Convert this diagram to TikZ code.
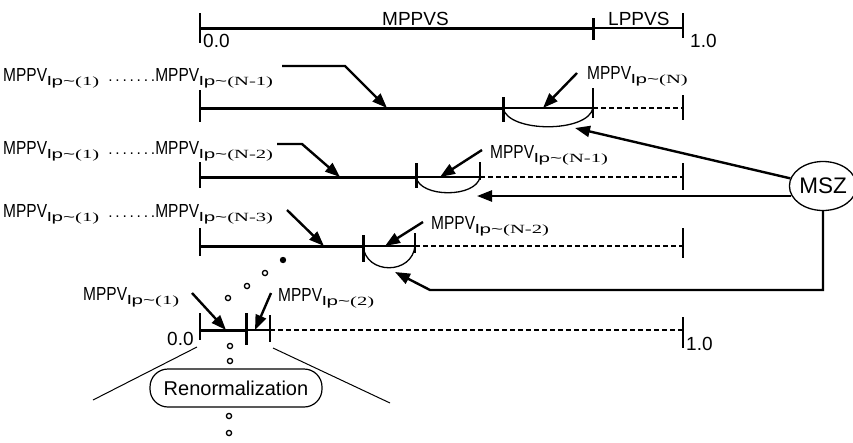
\documentclass[tikz,border=0pt]{standalone}
\usepackage{fontspec}
\setmainfont{Liberation Sans}
\newfontfamily\serf{Liberation Serif}
\usetikzlibrary{arrows.meta,shapes.geometric,calc}
\newcommand\sbs[1]{\raisebox{-4.5pt}{\scalebox{1.65}[1]{\fontsize{12.5}{12.5}\selectfont lp\textasciitilde{\serf(#1)}}}}
\newcommand\MP{\scalebox{1}[1.22]{MPPV}}
\newcommand\dts{\hspace{9pt}\makebox[47pt][s]{.\hfill.\hfill.\hfill.\hfill.\hfill.\hfill.}}
\begin{document}
\begin{tikzpicture}[x=1pt,y=-1pt,
  txt/.style={inner sep=0pt,anchor=base west,font=\fontsize{15.5}{15.5}\selectfont},
  toptxt/.style={inner sep=0pt,anchor=base west,font=\fontsize{19}{19}\selectfont},
  thick line/.style={line width=3pt},
  thin line/.style={line width=1.3pt},
  tick/.style={line width=1.2pt},
  btick/.style={line width=3pt},
  dash line/.style={line width=1.2pt,dash pattern=on 5pt off 3pt},
  arr/.style={line width=2.4pt,-{Triangle[length=15pt,width=11pt]}},
  dotc/.style={line width=1.3pt},
  fan/.style={line width=1pt}]
\useasboundingbox (0,0) rectangle (853,442);

% ---------- top scale ----------
\draw[tick] (200,13) -- (200,43);
\draw[thick line] (200,28) -- (593,28);
\draw[btick] (593,18) -- (593,40);
\draw[line width=1.8pt] (593,28) -- (683,28);
\draw[tick] (683,13) -- (683,38);
\node[toptxt] (mppvs) at (382,25) {MPPVS};
\node[toptxt] (lppvs) at (608,25) {LPPVS};
\node[toptxt] (z0) at (203,47) {0.0};
\node[toptxt] (o0) at (690,47) {1.0};

% ---------- line 1 ----------
\draw[tick] (200,90) -- (200,122);
\draw[thick line] (200,108) -- (503,108);
\draw[btick] (503,97) -- (503,122);
\draw[thin line] (503,108) -- (593,108);
\draw[tick] (593,88) -- (593,118);
\draw[dash line] (593,108) -- (683,108);
\draw[tick] (683,95) -- (683,120);
\draw[thin line] (503,108) .. controls (508,133) and (588,133) .. (593,108);
\node[txt] (l1) at (3,81) {\MP\sbs{1}\dts\MP\sbs{N-1}};
\node[txt] (n1) at (587,79) {\MP\sbs{N}};
\coordinate (a1s) at (282,66);
\coordinate (a1m) at (345,66);
\coordinate (a1e) at (387,108);
\draw[arr] (a1s) -- (a1m) -- (a1e);
\coordinate (b1s) at (577,73);
\coordinate (b1e) at (543,108);
\draw[arr] (b1s) -- (b1e);

% ---------- line 2 ----------
\draw[tick] (200,162) -- (200,188);
\draw[thick line] (200,177) -- (416,177);
\draw[btick] (416,163) -- (416,188);
\draw[thin line] (416,177) -- (480,177);
\draw[tick] (480,162) -- (480,180);
\draw[dash line] (480,177) -- (683,177);
\draw[tick] (683,163) -- (683,190);
\draw[thin line] (416,177) .. controls (420,198) and (476,198) .. (480,177);
\node[txt] (l2) at (3,154) {\MP\sbs{1}\dts\MP\sbs{N-2}};
\node[txt] (n2) at (490,158) {\MP\sbs{N-1}};
\coordinate (a2s) at (277,144);
\coordinate (a2m) at (302,144);
\coordinate (a2e) at (340,177);
\draw[arr] (a2s) -- (a2m) -- (a2e);
\coordinate (b2s) at (482,150);
\coordinate (b2e) at (440,177);
\draw[arr] (b2s) -- (b2e);

% ---------- line 3 ----------
\draw[tick] (200,228) -- (200,256);
\draw[thick line] (200,246) -- (363,246);
\draw[btick] (363,235) -- (363,262);
\draw[thin line] (363,246) -- (415,246);
\draw[tick] (415,233) -- (415,253);
\draw[dash line] (415,246) -- (683,246);
\draw[tick] (683,228) -- (683,258);
\draw[thin line] (363,246) .. controls (366,275) and (412,275) .. (415,246);
\node[txt] (l3) at (3,217) {\MP\sbs{1}\dts\MP\sbs{N-3}};
\node[txt] (n3) at (431,229) {\MP\sbs{N-2}};
\coordinate (a3s) at (287,210);
\coordinate (a3e) at (324,246);
\draw[arr] (a3s) -- (a3e);
\coordinate (b3s) at (423,222);
\coordinate (b3e) at (385,246);
\draw[arr] (b3s) -- (b3e);

% ---------- MSZ ----------
\node[draw,ellipse,line width=1.3pt,minimum width=59pt,minimum height=49pt,inner sep=0pt,
  font=\fontsize{22.5}{22.5}\selectfont]
  (msz) at (823,186) {MSZ};
\coordinate (m1e) at (575,128);
\draw[arr] (msz) -- (m1e);
\coordinate (m2e) at (477,196);
\draw[arr] ($(msz.west |- m2e)+(2.5,0)$) -- (m2e);
\coordinate (m3c) at (430,290);
\coordinate (m3e) at (395,272);
\draw[arr] (msz.south) |- (m3c) -- (m3e);

% ---------- dots ----------
\fill (283,260) circle (3.2pt);
\draw[dotc] (265,273) circle (2.6pt);
\draw[dotc] (247,286) circle (2.6pt);
\draw[dotc] (228,298) circle (2.6pt);
\draw[dotc] (230,346) circle (2.6pt);
\draw[dotc] (230,361) circle (2.6pt);
\draw[dotc] (229,416) circle (2.6pt);
\draw[dotc] (229,433) circle (2.6pt);

% ---------- bottom scale ----------
\draw[tick] (200,313) -- (200,340);
\draw[thick line] (200,330) -- (246,330);
\draw[btick] (246,313) -- (246,345);
\draw[thin line] (246,330) -- (270,330);
\draw[tick] (270,315) -- (270,342);
\draw[dash line] (270,330) -- (683,330);
\draw[tick] (683,317) -- (683,348);
\node[toptxt] (bz) at (167,345) {0.0};
\node[toptxt] (bo) at (686,350) {1.0};
\node[txt] (bl1) at (83,300) {\MP\sbs{1}};
\node[txt] (bl2) at (278,301) {\MP\sbs{2}};
\coordinate (c1s) at (192,293);
\coordinate (c1e) at (226,330);
\draw[arr] (c1s) -- (c1e);
\coordinate (c2s) at (271,293);
\coordinate (c2e) at (255,330);
\draw[arr] (c2s) -- (c2e);

% ---------- renormalization ----------
\node[draw,line width=1.2pt,rounded corners=18pt,minimum width=172pt,minimum height=38pt,inner sep=0pt,
  font=\fontsize{20}{20}\selectfont]
  (ren) at (236,388) {Renormalization};
\coordinate (f1s) at (197,347);
\coordinate (f1e) at (93,400);
\coordinate (f2s) at (273,348);
\coordinate (f2e) at (390,403);
\draw[fan] (f1s) -- (f1e);
\draw[fan] (f2s) -- (f2e);
\end{tikzpicture}
\end{document}
